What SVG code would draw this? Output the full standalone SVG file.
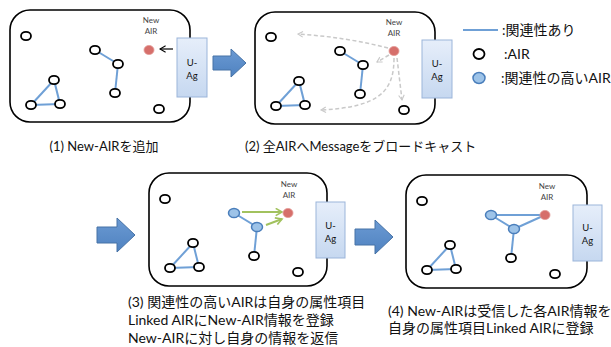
<svg xmlns="http://www.w3.org/2000/svg" width="611" height="347" viewBox="0 0 611 347">
<style>
text{font-family:Lato,"Noto Sans CJK JP",sans-serif;fill:#111}
.frame{fill:#fff;stroke:#000;stroke-width:1.6}
.uag{fill:url(#ug);stroke:#9bb5da;stroke-width:1}
.uagt{font-size:9.5px;text-anchor:middle}
.lbl{font-size:8px;fill:#444;text-anchor:middle}
.n{fill:#fff;stroke:#000;stroke-width:1.8}
.b{fill:#9dc3e8;stroke:#4a7ebb;stroke-width:1.5}
.r{fill:#d66f6b;stroke:#e39a97;stroke-width:0.8}
.e{stroke:#6fa0d6;stroke-width:2;fill:none}
.d{stroke:#c9c9c9;stroke-width:1.5;fill:none;stroke-dasharray:4 2.5}
.g{stroke:#a2c25e;stroke-width:2;fill:none}
.big{fill:url(#ag);stroke:#4672a6;stroke-width:1}
.cap{font-size:13px}
.cap2{font-size:14px}
.leg{font-size:14px}
</style>
<defs>
<linearGradient id="ug" x1="0" y1="0" x2="0" y2="1"><stop offset="0" stop-color="#e6eefa"/><stop offset="1" stop-color="#c6d8f0"/></linearGradient>
<linearGradient id="ag" x1="0" y1="0" x2="0" y2="1"><stop offset="0" stop-color="#6b9ad3"/><stop offset="1" stop-color="#4f82c0"/></linearGradient>
<marker id="dm" viewBox="0 0 10 10" refX="8" refY="5" markerWidth="7" markerHeight="7" orient="auto" markerUnits="userSpaceOnUse"><polyline points="1,1 8,5 1,9" fill="none" stroke="#c9c9c9" stroke-width="1.6"/></marker>
<marker id="gm" viewBox="0 0 10 10" refX="8" refY="5" markerWidth="9" markerHeight="9" orient="auto" markerUnits="userSpaceOnUse"><polyline points="1,1 8,5 1,9" fill="none" stroke="#a2c25e" stroke-width="1.8"/></marker>
<marker id="km" viewBox="0 0 10 10" refX="8" refY="5" markerWidth="8" markerHeight="8" orient="auto" markerUnits="userSpaceOnUse"><polyline points="1,1 8,5 1,9" fill="none" stroke="#000" stroke-width="1.3"/></marker>
</defs>

<!-- Panel 1 -->
<g id="panel1">
<rect class="frame" x="10" y="10" width="180" height="112" rx="20"/>
<g id="p1-uag"><rect class="uag" x="177" y="38" width="30" height="59"/><text class="uagt" x="192" y="66">U-</text><text class="uagt" x="192" y="79">Ag</text></g>
<g id="p1-connectors">
<line class="e" x1="95" y1="50" x2="118" y2="64"/>
<line class="e" x1="118" y1="64" x2="115" y2="93"/>
<line class="e" x1="54" y1="80" x2="31" y2="105"/>
<line class="e" x1="54" y1="80" x2="60" y2="104"/>
<line class="e" x1="31" y1="105" x2="60" y2="104"/>
<line x1="173" y1="49" x2="160" y2="49" stroke="#000" stroke-width="1.2" marker-end="url(#km)"/>
</g>
<g id="p1-n1"><ellipse class="n" cx="26" cy="36" rx="5" ry="4.2"/></g>
<g id="p1-n2"><ellipse class="n" cx="95" cy="50" rx="5" ry="4.2"/></g>
<g id="p1-n3"><ellipse class="n" cx="118" cy="64" rx="5" ry="4.2"/></g>
<g id="p1-n4"><ellipse class="n" cx="115" cy="93" rx="5" ry="4.2"/></g>
<g id="p1-n5"><ellipse class="n" cx="54" cy="80" rx="5" ry="4.2"/></g>
<g id="p1-n6"><ellipse class="n" cx="31" cy="105" rx="5" ry="4.2"/></g>
<g id="p1-n7"><ellipse class="n" cx="60" cy="104" rx="5" ry="4.2"/></g>
<g id="p1-n8"><ellipse class="n" cx="159" cy="109" rx="5" ry="4.2"/></g>
<g id="p1-new"><ellipse class="r" cx="149" cy="50" rx="5" ry="4.6"/><text class="lbl" x="151" y="23">New</text><text class="lbl" x="151" y="34">AIR</text></g>
</g>
<text class="cap" x="104" y="151" text-anchor="middle">(1) New-AIRを追加</text>

<!-- Arrow 1 -->
<polygon class="big" points="213,56 231,56 231,49 246,63 231,77 231,70 213,70"/>

<!-- Panel 2 -->
<g id="panel2" transform="translate(245,1)">
<rect class="frame" x="10" y="11" width="180" height="112" rx="20"/>
<g id="p2-uag"><rect class="uag" x="177" y="39" width="30" height="58"/><text class="uagt" x="192" y="66">U-</text><text class="uagt" x="192" y="79">Ag</text></g>
<g id="p2-connectors">
<line class="e" x1="95" y1="50" x2="118" y2="64"/>
<line class="e" x1="118" y1="64" x2="115" y2="93"/>
<line class="e" x1="54" y1="80" x2="31" y2="105"/>
<line class="e" x1="54" y1="80" x2="60" y2="104"/>
<line class="e" x1="31" y1="105" x2="60" y2="104"/>
<path class="d" d="M143,47 Q100,36 53,33" marker-end="url(#dm)"/>
<path class="d" d="M144,54 L132,61" marker-end="url(#dm)"/>
<path class="d" d="M149,57 C149,90 135,106 76,109" marker-end="url(#dm)"/>
<path class="d" d="M152,57 L157,99" marker-end="url(#dm)"/>
</g>
<g id="p2-n1"><ellipse class="n" cx="26" cy="36" rx="5" ry="4.2"/></g>
<g id="p2-n2"><ellipse class="n" cx="95" cy="50" rx="5" ry="4.2"/></g>
<g id="p2-n3"><ellipse class="n" cx="118" cy="64" rx="5" ry="4.2"/></g>
<g id="p2-n4"><ellipse class="n" cx="115" cy="93" rx="5" ry="4.2"/></g>
<g id="p2-n5"><ellipse class="n" cx="54" cy="80" rx="5" ry="4.2"/></g>
<g id="p2-n6"><ellipse class="n" cx="31" cy="105" rx="5" ry="4.2"/></g>
<g id="p2-n7"><ellipse class="n" cx="60" cy="104" rx="5" ry="4.2"/></g>
<g id="p2-n8"><ellipse class="n" cx="159" cy="109" rx="5" ry="4.2"/></g>
<g id="p2-new"><ellipse class="r" cx="149" cy="50" rx="5" ry="4.6"/><text class="lbl" x="149" y="24">New</text><text class="lbl" x="149" y="35">AIR</text></g>
</g>
<text class="cap" x="245" y="151">(2) 全AIRへMessageをブロードキャスト</text>

<!-- Legend -->
<g id="legend">
<line class="e" x1="463" y1="30" x2="498" y2="30"/>
<text class="leg" x="502" y="35">:関連性あり</text>
<ellipse class="n" cx="479" cy="54" rx="5.5" ry="5"/>
<text class="leg" x="504" y="59">:AIR</text>
<ellipse class="b" cx="479" cy="78" rx="6" ry="5.5"/>
<text class="leg" x="501" y="83">:関連性の高いAIR</text>
</g>

<!-- Arrow 2 -->
<polygon class="big" points="97,227 117,227 117,218 135,235 117,252 117,243 97,243"/>

<!-- Panel 3 -->
<g id="panel3" transform="translate(139,163)">
<rect class="frame" x="10" y="10" width="178" height="113" rx="20"/>
<g id="p3-uag"><rect class="uag" x="177" y="39" width="29" height="56"/><text class="uagt" x="191.5" y="66">U-</text><text class="uagt" x="191.5" y="79">Ag</text></g>
<g id="p3-connectors">
<line class="e" x1="95" y1="50" x2="118" y2="64"/>
<line class="e" x1="118" y1="64" x2="115" y2="93"/>
<line class="e" x1="54" y1="80" x2="31" y2="105"/>
<line class="e" x1="54" y1="80" x2="60" y2="104"/>
<line class="e" x1="31" y1="105" x2="60" y2="104"/>
<line class="g" x1="103" y1="49" x2="143" y2="49" marker-end="url(#gm)"/>
<line class="g" x1="127" y1="62" x2="143" y2="56" marker-end="url(#gm)"/>
</g>
<g id="p3-n1"><ellipse class="n" cx="26" cy="36" rx="5" ry="4.2"/></g>
<g id="p3-n2"><ellipse class="b" cx="95" cy="50" rx="5.5" ry="4.6"/></g>
<g id="p3-n3"><ellipse class="b" cx="118" cy="64" rx="5.5" ry="4.6"/></g>
<g id="p3-n4"><ellipse class="n" cx="115" cy="93" rx="5" ry="4.2"/></g>
<g id="p3-n5"><ellipse class="n" cx="54" cy="80" rx="5" ry="4.2"/></g>
<g id="p3-n6"><ellipse class="n" cx="31" cy="105" rx="5" ry="4.2"/></g>
<g id="p3-n7"><ellipse class="n" cx="60" cy="104" rx="5" ry="4.2"/></g>
<g id="p3-n8"><ellipse class="n" cx="159" cy="109" rx="5" ry="4.2"/></g>
<g id="p3-new"><ellipse class="r" cx="149" cy="50" rx="5" ry="4.6"/><text class="lbl" x="150" y="24">New</text><text class="lbl" x="150" y="35">AIR</text></g>
</g>
<text class="cap2" x="128" y="307">(3) 関連性の高いAIRは自身の属性項目</text>
<text class="cap2" x="128" y="325">Linked AIRにNew-AIR情報を登録</text>
<text class="cap2" x="128" y="343">New-AIRに対し自身の情報を返信</text>

<!-- Arrow 3 -->
<polygon class="big" points="355,229 375,229 375,220 393,237 375,254 375,245 355,245"/>

<!-- Panel 4 -->
<g id="panel4" transform="translate(396,165)">
<rect class="frame" x="10" y="10" width="181" height="113" rx="20"/>
<g id="p4-uag"><rect class="uag" x="177" y="40" width="29" height="56"/><text class="uagt" x="191.5" y="66">U-</text><text class="uagt" x="191.5" y="79">Ag</text></g>
<g id="p4-connectors">
<line class="e" x1="95" y1="50" x2="118" y2="64"/>
<line class="e" x1="118" y1="64" x2="115" y2="93"/>
<line class="e" x1="95" y1="50" x2="149" y2="50"/>
<line class="e" x1="149" y1="50" x2="118" y2="64"/>
<line class="e" x1="54" y1="80" x2="31" y2="105"/>
<line class="e" x1="54" y1="80" x2="60" y2="104"/>
<line class="e" x1="31" y1="105" x2="60" y2="104"/>
</g>
<g id="p4-n1"><ellipse class="n" cx="26" cy="36" rx="5" ry="4.2"/></g>
<g id="p4-n2"><ellipse class="b" cx="95" cy="50" rx="5.5" ry="4.6"/></g>
<g id="p4-n3"><ellipse class="b" cx="118" cy="64" rx="5.5" ry="4.6"/></g>
<g id="p4-n4"><ellipse class="n" cx="115" cy="93" rx="5" ry="4.2"/></g>
<g id="p4-n5"><ellipse class="n" cx="54" cy="80" rx="5" ry="4.2"/></g>
<g id="p4-n6"><ellipse class="n" cx="31" cy="105" rx="5" ry="4.2"/></g>
<g id="p4-n7"><ellipse class="n" cx="60" cy="104" rx="5" ry="4.2"/></g>
<g id="p4-n8"><ellipse class="n" cx="159" cy="109" rx="5" ry="4.2"/></g>
<g id="p4-new"><ellipse class="r" cx="149" cy="50" rx="5" ry="4.6"/><text class="lbl" x="151" y="24">New</text><text class="lbl" x="151" y="35">AIR</text></g>
</g>
<text class="cap2" x="388" y="316">(4) New-AIRは受信した各AIR情報を</text>
<text class="cap2" x="388" y="333">自身の属性項目Linked AIRに登録</text>
</svg>
